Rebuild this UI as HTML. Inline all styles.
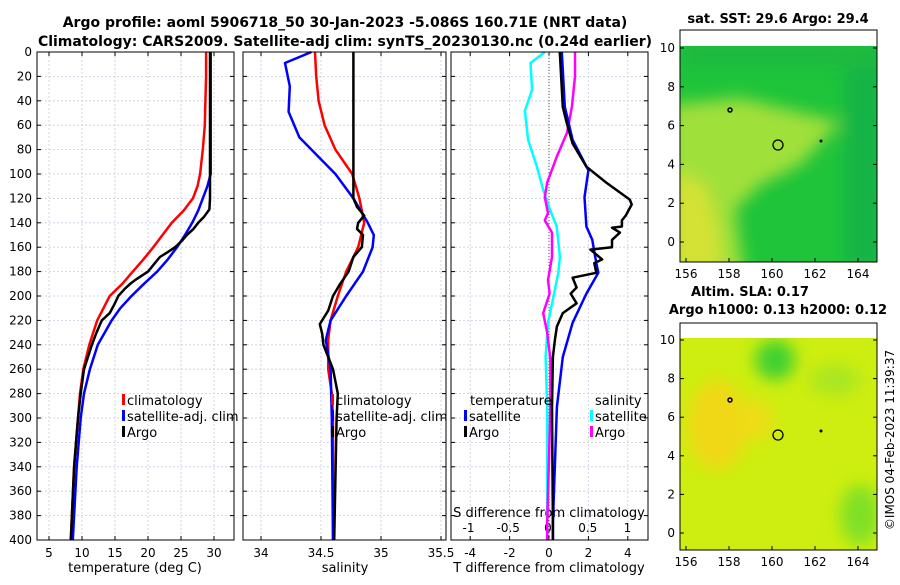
<!DOCTYPE html>
<html><head><meta charset="utf-8"><style>
body{margin:0;background:#fff;}
svg text{font-family:"DejaVu Sans","Liberation Sans",sans-serif;}
</style></head><body>
<svg id="c" width="900" height="580" xmlns="http://www.w3.org/2000/svg">
<defs>
<filter id="bl" x="-20%" y="-20%" width="140%" height="140%"><feGaussianBlur stdDeviation="8"/></filter>
<clipPath id="m1c"><rect x="680" y="46" width="197" height="216"/></clipPath>
<clipPath id="m2c"><rect x="680" y="338" width="197" height="212"/></clipPath>
</defs>
<text x="345" y="27" text-anchor="middle" font-size="14" font-weight="bold">Argo profile: aoml 5906718_50 30-Jan-2023 -5.086S 160.71E (NRT data)</text>
<text x="345" y="46" text-anchor="middle" font-size="14" font-weight="bold">Climatology: CARS2009. Satellite-adj clim: synTS_20230130.nc (0.24d earlier)</text>
<g id="p1"></g>
<g id="p2"></g>
<g id="p3"></g>
<g>
<text x="778" y="23" text-anchor="middle" font-size="13" font-weight="bold">sat. SST: 29.6 Argo: 29.4</text>
<g clip-path="url(#m1c)">
<rect x="680" y="46" width="197" height="216" fill="#1fc43a"/>
<g filter="url(#bl)">
<polygon points="670,105 740,98 790,110 840,122 800,165 760,185 735,210 745,275 670,275" fill="#a0e03a"/>
<polygon points="670,170 705,185 718,230 722,275 670,275" fill="#d4e236"/>
<rect x="845" y="40" width="40" height="230" fill="#16b446"/>
<rect x="680" y="40" width="200" height="28" fill="#1aba40"/>
</g>
</g>
<rect x="680" y="30" width="197" height="232" fill="none" stroke="#000" stroke-width="1"/>
<circle cx="778" cy="145" r="5" fill="none" stroke="#000" stroke-width="1.3"/>
<circle cx="730" cy="110" r="2" fill="none" stroke="#000" stroke-width="1.5"/>
<circle cx="821" cy="141" r="1.5" fill="#000"/>
</g>
<g>
<text x="750" y="296" text-anchor="middle" font-size="13" font-weight="bold">Altim. SLA: 0.17</text>
<text x="778" y="314" text-anchor="middle" font-size="13" font-weight="bold">Argo h1000: 0.13 h2000: 0.12</text>
<g clip-path="url(#m2c)">
<rect x="680" y="338" width="197" height="212" fill="#cdee10"/>
<g filter="url(#bl)">
<ellipse cx="717" cy="425" rx="30" ry="45" fill="#f0d818"/>
<ellipse cx="755" cy="420" rx="18" ry="20" fill="#eedc18"/>
<ellipse cx="775" cy="360" rx="20" ry="20" fill="#40d030"/>
<ellipse cx="860" cy="515" rx="20" ry="30" fill="#80e028"/>
<ellipse cx="835" cy="380" rx="25" ry="15" fill="#a8e620"/>
</g>
</g>
<rect x="680" y="323" width="197" height="227" fill="none" stroke="#000" stroke-width="1"/>
<circle cx="778" cy="435" r="5" fill="none" stroke="#000" stroke-width="1.3"/>
<circle cx="730" cy="400" r="2" fill="none" stroke="#000" stroke-width="1.5"/>
<circle cx="821" cy="431" r="1.5" fill="#000"/>
</g>
<text transform="translate(894,440) rotate(-90)" text-anchor="middle" font-size="12">©IMOS 04-Feb-2023 11:39:37</text>
<g id="maxes"></g>
</svg>
<script>
const depthTicks=[0,20,40,60,80,100,120,140,160,180,200,220,240,260,280,300,320,340,360,380,400];
const tTicks=[5,10,15,20,25,30];
const sTicks=[34,34.5,35,35.5];
const tdTicks=[-4,-2,0,2,4];
const sdTicks=[-1,-0.5,0,0.5,1];
const climTdepth=[0,20,40,60,80,100,110,120,130,140,150,160,170,180,190,200,220,240,260,280,300,340,400];
const climT=[28.8,28.8,28.7,28.6,28.3,27.9,27.5,26.8,25.4,23.6,22.2,20.8,19.3,17.7,16.1,14.2,12.3,11.1,10.2,9.7,9.4,8.8,8.3];
const satTdepth=[0,20,40,60,80,100,110,120,130,140,150,160,170,180,190,200,210,220,240,260,280,300,340,400];
const satT=[29.5,29.5,29.5,29.5,29.5,29.5,29.0,28.3,27.6,26.7,25.6,24.4,23.0,21.4,19.4,17.5,15.8,14.5,12.4,11.2,10.3,9.8,9.2,8.6];
const argoTdepth=[0,40,80,100,110,120,129,135,140,145,150,155,160,164,168,172,176,180,186,190,194,200,207,214,220,230,240,260,280,300,340,400];
const argoT=[29.4,29.4,29.4,29.4,29.4,29.4,29.3,28.5,27.6,26.9,25.9,25.1,24.1,23.0,21.8,21.2,20.6,20.0,18.3,17.3,16.5,15.5,14.9,14.2,13.0,12.2,11.5,10.3,9.8,9.4,8.8,8.3];
const climSdepth=[0,20,40,60,80,100,120,140,160,180,200,220,236,260,280,300,400];
const climS=[34.45,34.46,34.48,34.53,34.62,34.76,34.82,34.86,34.81,34.71,34.64,34.58,34.56,34.56,34.59,34.6,34.6];
const satSdepth=[0,9,28,49,70,100,120,140,150,160,180,200,220,236,260,300,400];
const satS=[34.42,34.2,34.24,34.23,34.32,34.62,34.77,34.89,34.94,34.93,34.85,34.71,34.58,34.54,34.58,34.59,34.6];
const argoSdepth=[0,120,127,134,140,145,150,160,168,180,190,200,212,223,231,240,260,280,300,400];
const argoS=[34.77,34.77,34.8,34.86,34.81,34.8,34.85,34.84,34.77,34.73,34.66,34.6,34.56,34.49,34.51,34.52,34.6,34.64,34.63,34.61];
const dTdepth=[0,45,58,75,94,107,121,125,134,138,143,144,148,154,160,162,170,173,181,185,193,198,206,214,225,236,250,291,386,400];
const dTargo=[0.55,0.7,0.9,1.2,1.9,2.9,4.1,4.2,3.9,3.7,3.7,3.2,3.6,3.2,3.2,2.1,2.7,2.3,2.4,1.2,1.4,1.1,1.4,0.7,0.4,0.3,0.2,0.15,0.2,0.2];
const dTsatDepth=[0,45,72,97,119,143,154,173,181,198,222,250,291,386,400];
const dTsat=[0.65,0.8,1.2,2.0,1.8,1.9,2.2,2.4,2.5,1.9,1.2,0.7,0.4,0.2,0.2];
const dSsatDepth=[0,9,31,48,72,94,113,130,143,168,181,203,222,250,291,386,400];
const dSsat=[-0.04,-0.22,-0.2,-0.29,-0.25,-0.14,-0.06,0.03,0.11,0.15,0.13,0.06,0,-0.03,-0.01,-0.01,-0.01];
const dSargoDepth=[0,20,45,66,86,107,119,132,138,148,168,187,198,214,230,252,291,386,400];
const dSargo=[0.34,0.34,0.3,0.24,0.11,-0.01,-0.04,0,-0.04,0.05,0.05,0,0.02,-0.06,-0.01,0.03,0.03,-0.01,-0.01];

const NS='http://www.w3.org/2000/svg';
function mk(p,tag,at,txt){const e=document.createElementNS(NS,tag);for(const k in at)e.setAttribute(k,at[k]);if(txt!==undefined)e.textContent=txt;p.appendChild(e);return e;}
const Y0=52,Y1=540;
const yD=d=>Y0+d*(Y1-Y0)/400;
function panel(g,x0,x1,lin,ticks,labels,showY){
  mk(g,'rect',{x:x0,y:Y0,width:x1-x0,height:Y1-Y0,fill:'#fff',stroke:'none'});
  depthTicks.forEach(d=>{mk(g,'line',{x1:x0,x2:x1,y1:yD(d),y2:yD(d),stroke:'#c8cce0','stroke-dasharray':'2,2','stroke-width':0.8});
    mk(g,'line',{x1:x0,x2:x0+4,y1:yD(d),y2:yD(d),stroke:'#000'});mk(g,'line',{x1:x1-4,x2:x1,y1:yD(d),y2:yD(d),stroke:'#000'});
    if(showY){const t=mk(g,'text',{x:x0-5,y:yD(d)+4,'text-anchor':'end','font-size':12},d);}});
  ticks.forEach((v,i)=>{const x=lin(v);mk(g,'line',{x1:x,x2:x,y1:Y0,y2:Y1,stroke:'#c8cce0','stroke-dasharray':'2,2','stroke-width':0.8});
    mk(g,'line',{x1:x,x2:x,y1:Y1,y2:Y1-4,stroke:'#000'});mk(g,'line',{x1:x,x2:x,y1:Y0,y2:Y0+4,stroke:'#000'});
    if(labels){const t=mk(g,'text',{x:x,y:557,'text-anchor':'middle','font-size':12},labels[i]);}});
}
function frame(g,x0,x1){mk(g,'rect',{x:x0,y:Y0,width:x1-x0,height:Y1-Y0,fill:'none',stroke:'#000','stroke-width':1});}
function line(g,xs,ds,lin,col,w,name){const pts=xs.map((v,i)=>lin(v).toFixed(1)+','+yD(ds[i]).toFixed(1)).join(' ');
  const e=mk(g,'polyline',{points:pts,fill:'none',stroke:col,'stroke-width':w,'stroke-linejoin':'round'});
  
  }
function leg(g,x,y,col,txt,name){mk(g,'rect',{x:x,y:y-11,width:3,height:11,fill:col});const t=mk(g,'text',{x:x+5,y:y,'font-size':13},txt);
  
  }
// panel 1
const g1=document.getElementById('p1');const xT=t=>49+(t-5)*6.6;
panel(g1,37,234,xT,tTicks,tTicks,true);
line(g1,climT,climTdepth,xT,'#f00',2.5,'climatology-temperature-line');
line(g1,satT,satTdepth,xT,'#00f',2.5,'satellite-temperature-line');
line(g1,argoT,argoTdepth,xT,'#000',2.5,'argo-temperature-line');
leg(g1,122,405,'#f00','climatology','legend-climatology');
leg(g1,122,421,'#00f','satellite-adj. clim','legend-satellite');
leg(g1,122,437,'#000','Argo','legend-argo');
frame(g1,37,234);
mk(g1,'text',{x:135,y:572,'text-anchor':'middle','font-size':13},'temperature (deg C)');
// panel 2
const g2=document.getElementById('p2');const xS=s=>261+(s-34)*120;
panel(g2,243,446,xS,sTicks,sTicks,false);
line(g2,climS,climSdepth,xS,'#f00',2.5,'climatology-salinity-line');
line(g2,satS,satSdepth,xS,'#00f',2.5,'satellite-salinity-line');
line(g2,argoS,argoSdepth,xS,'#000',2.5,'argo-salinity-line');
leg(g2,331,405,'#f00','climatology','legend-climatology');
leg(g2,331,421,'#00f','satellite-adj. clim','legend-satellite');
leg(g2,331,437,'#000','Argo','legend-argo');
frame(g2,243,446);
mk(g2,'text',{x:345,y:572,'text-anchor':'middle','font-size':13},'salinity');
// panel 3
const g3=document.getElementById('p3');const xTd=t=>549+t*19.7;const xSd=s=>548+s*79.5;
panel(g3,451,648,xTd,tdTicks,tdTicks,false);
sdTicks.forEach(v=>{const t=mk(g3,'text',{x:xSd(v),y:532,'text-anchor':'middle','font-size':12},v);});
mk(g3,'text',{x:549,y:517,'text-anchor':'middle','font-size':13},'S difference from climatology');
mk(g3,'line',{x1:549,x2:549,y1:Y0,y2:Y1,stroke:'#555','stroke-dasharray':'1,2'});
line(g3,dSsat,dSsatDepth,xSd,'#0ff',2.5,'salinity-satellite-diff-line');
line(g3,dSargo,dSargoDepth,xSd,'#f0f',2.5,'salinity-argo-diff-line');
line(g3,dTsat,dTsatDepth,xTd,'#00f',2.5,'temperature-satellite-diff-line');
line(g3,dTargo,dTdepth,xTd,'#000',2.5,'temperature-argo-diff-line');
mk(g3,'text',{x:470,y:405,'font-size':13},'temperature');
mk(g3,'text',{x:595,y:405,'font-size':13},'salinity');
leg(g3,464,421,'#00f','satellite','legend-t-satellite');
leg(g3,464,437,'#000','Argo','legend-t-argo');
leg(g3,590,421,'#0ff','satellite','legend-s-satellite');
leg(g3,590,437,'#f0f','Argo','legend-s-argo');
frame(g3,451,648);
mk(g3,'text',{x:549,y:572,'text-anchor':'middle','font-size':13},'T difference from climatology');
// map axes
const ma=document.getElementById('maxes');
const lonTicks=[156,158,160,162,164];const latTicks=[0,2,4,6,8,10];
[[48,242,262],[340,533,550]].forEach(([y10,y0,yb])=>{
  latTicks.forEach(l=>{const y=y0-(y0-y10)*l/10;mk(ma,'line',{x1:680,x2:684,y1:y,y2:y,stroke:'#000'});mk(ma,'line',{x1:873,x2:877,y1:y,y2:y,stroke:'#000'});
    mk(ma,'text',{x:675,y:y+4,'text-anchor':'end','font-size':12},l);});
  lonTicks.forEach(l=>{const x=686+(l-156)*21.5;mk(ma,'line',{x1:x,x2:x,y1:yb,y2:yb-4,stroke:'#000'});
    mk(ma,'text',{x:x,y:yb+16,'text-anchor':'middle','font-size':12},l);});
});
</script>
</body></html>
